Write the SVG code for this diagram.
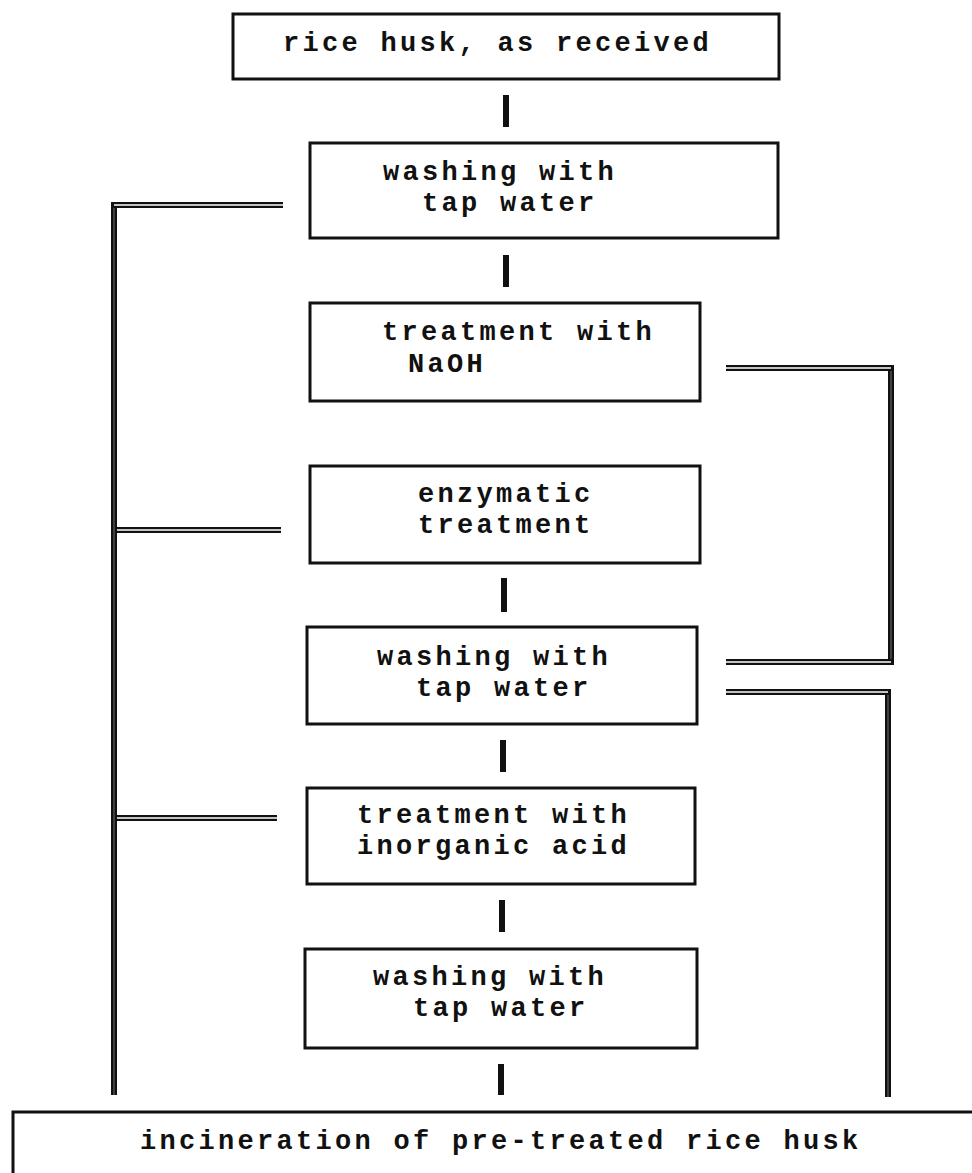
<svg xmlns="http://www.w3.org/2000/svg" width="972" height="1173" viewBox="0 0 972 1173">
<style>
.box{fill:#fff;stroke:#111;stroke-width:3}
.t{font-family:"Liberation Mono","DejaVu Sans Mono",monospace;font-weight:bold;font-size:27px;letter-spacing:3.3px;fill:#111}
.out{fill:none;stroke:#111;stroke-width:6;stroke-linejoin:miter;stroke-linecap:butt}
.inH{fill:none;stroke:#fff;stroke-width:1.6}
.inV{fill:none;stroke:#555;stroke-width:1.4}
.bar{fill:#111}
</style>
<rect width="972" height="1173" fill="#fff"/>
<g id="connectors">
  <rect class="bar" x="503" y="95" width="6" height="32"/>
  <rect class="bar" x="503" y="255" width="6" height="32"/>
  <rect class="bar" x="501" y="578" width="6" height="34"/>
  <rect class="bar" x="500" y="740" width="6" height="32"/>
  <rect class="bar" x="499" y="900" width="6" height="32"/>
  <rect class="bar" x="498" y="1064" width="6" height="31"/>
  <path class="out" d="M283 205 H114 V1095 M114 530 H281 M114 818 H277"/>
  <path class="inV" d="M114 208 V1095"/>
  <path class="inH" d="M283 205 H114 M117 530 H281 M117 818 H277"/>
  <path class="out" d="M726 368 H891 V662 H726"/>
  <path class="inV" d="M891 371 V659"/>
  <path class="inH" d="M726 368 H891 M891 662 H726"/>
  <path class="out" d="M726 692 H888 V1097"/>
  <path class="inV" d="M888 695 V1097"/>
  <path class="inH" d="M726 692 H888"/>
</g>
<g id="n1"><rect class="box" x="233" y="14" width="546" height="65"/><text class="t" x="283" y="51">rice husk, as received</text></g>
<g id="n2"><rect class="box" x="310" y="143" width="468" height="95"/><text class="t" x="383" y="180">washing with</text><text class="t" x="422" y="211">tap water</text></g>
<g id="n3"><rect class="box" x="310" y="303" width="390" height="98"/><text class="t" x="382" y="340">treatment with</text><text class="t" x="408" y="372">NaOH</text></g>
<g id="n4"><rect class="box" x="310" y="466" width="390" height="97"/><text class="t" x="418" y="502">enzymatic</text><text class="t" x="418" y="533">treatment</text></g>
<g id="n5"><rect class="box" x="307" y="627" width="390" height="97"/><text class="t" x="377" y="665">washing with</text><text class="t" x="416" y="696">tap water</text></g>
<g id="n6"><rect class="box" x="307" y="788" width="388" height="96"/><text class="t" x="357" y="823">treatment with</text><text class="t" x="357" y="854">inorganic acid</text></g>
<g id="n7"><rect class="box" x="305" y="949" width="392" height="99"/><text class="t" x="373" y="985">washing with</text><text class="t" x="413" y="1016">tap water</text></g>
<g id="n8"><path fill="none" stroke="#111" stroke-width="3" d="M13 1176 V1112 H975"/><text class="t" x="140" y="1149">incineration of pre-treated rice husk</text></g>
</svg>
